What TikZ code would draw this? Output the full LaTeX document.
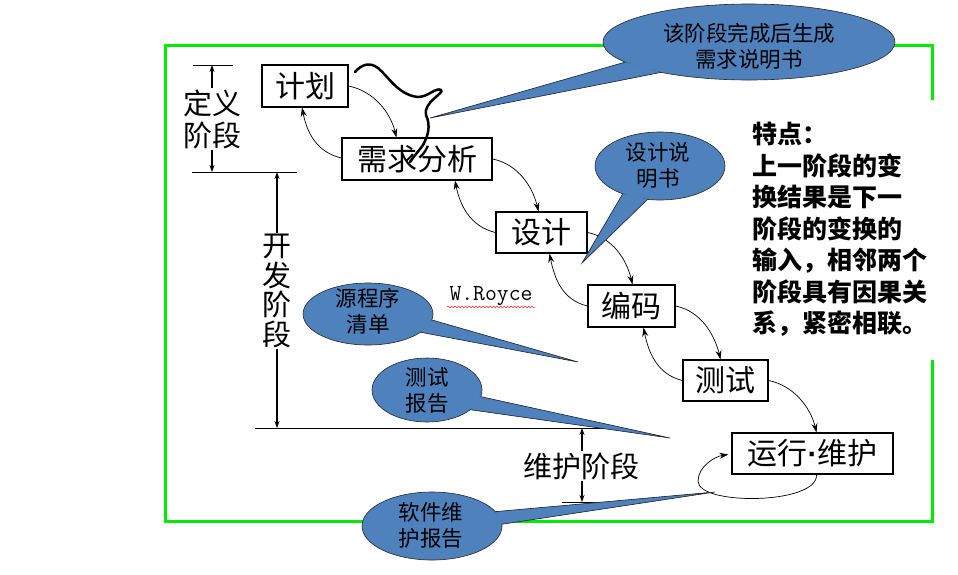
\documentclass[tikz,border=0pt]{standalone}
\usepackage{fontspec}
\newfontfamily\cjk{Noto Sans CJK SC}
\newfontfamily\latdot{Liberation Sans}
\usetikzlibrary{arrows.meta,calc,decorations.pathmorphing}
\definecolor{cblue}{RGB}{79,129,189}
\definecolor{fgreen}{RGB}{0,235,0}
\newcommand{\mycallout}[6]{%
  \coordinate (#1c) at #2;
  \coordinate (#1a) at ($(#1c)+(#4:#3)$);
  \coordinate (#1b) at ($(#1c)+(#5:#3)$);
  \fill[cblue] (#1a) -- (#6) -- (#1b) -- cycle;
  \filldraw[fill=cblue, draw=black!85, line width=0.6pt] (#1c) ellipse (#3);
  \fill[cblue] (#1a) -- (#6) -- (#1b) -- cycle;
  \draw[black!85, line width=0.6pt, line join=miter] (#1a) -- (#6) -- (#1b);
}
\begin{document}
\begin{tikzpicture}[x=1pt,y=-1pt,
  stage/.style={draw, line width=1.2pt, fill=white, inner sep=0pt,
    font=\cjk\fontsize{30}{32}\selectfont},
  flow/.style={-{Stealth[length=9pt,width=6pt]}, line width=0.7pt},
  dim/.style={-{Stealth[length=7pt,width=5pt]}, line width=1.3pt},
  rule/.style={line width=1pt},
  ctext/.style={align=center, inner sep=0pt, font=\cjk\fontsize{21.5}{26}\selectfont},
  side/.style={align=center, inner sep=1pt, font=\cjk\fontsize{29}{32}\selectfont}
]
\useasboundingbox (0,0) rectangle (958,574);
\fill[white] (0,0) rectangle (958,574);

% green frame
\draw[fgreen, line width=3pt] (932,100) -- (932,45) -- (165,45) -- (165,521) -- (932,521) -- (932,360);

% stage boxes
\node[stage, minimum width=86pt, minimum height=42pt] (jh) at (305,86) {计划};
\node[stage, minimum width=150pt, minimum height=42pt] (xq) at (417,159) {需求分析};
\node[stage, minimum width=91pt, minimum height=41pt] (sj) at (541.5,232.5) {设计};
\node[stage, minimum width=87pt, minimum height=42pt] (bm) at (631.5,306) {编码};
\node[stage, minimum width=85pt, minimum height=41pt] (cs) at (725.5,380.5) {测试};
\node[stage, minimum width=161pt, minimum height=41pt] (yx) at (812.5,453.5) {运行{\latdot\bfseries\fontsize{30}{32}\selectfont·}维护};

% forward arrows
\draw[flow] (jh.east) .. controls +(25,5) and +(-6,-25) .. ($(xq.north west)+(55,0)$);
\draw[flow] (xq.east) .. controls +(25,5) and +(-6,-25) .. ($(sj.north)+(-3,0)$);
\draw[flow] (sj.east) .. controls +(25,5) and +(-6,-25) .. ($(bm.north)+(1,0)$);
\draw[flow] (bm.east) .. controls +(25,5) and +(-6,-25) .. ($(cs.north)+(-5,0)$);
\draw[flow] (cs.east) .. controls +(25,5) and +(-6,-25) .. ($(yx.north)+(4,0)$);
% backward arrows
\draw[flow] ($(xq.west)+(0,-1)$) .. controls +(-25,-6) and +(5,25) .. ($(jh.south)+(-3,0)$);
\draw[flow] (sj.west) .. controls +(-25,-6) and +(5,25) .. ($(xq.south)+(38,0)$);
\draw[flow] (bm.west) .. controls +(-25,-6) and +(5,25) .. ($(sj.south)+(8,0)$);
\draw[flow] (cs.west) .. controls +(-25,-6) and +(5,25) .. ($(bm.south)+(12,0)$);
% self loop
\coordinate (lp1) at (698,481);
\draw[flow] ($(yx.south)+(4,0)$) .. controls +(2,30) and +(0,25) .. (lp1)
   .. controls +(0,-14) and +(-14,2) .. ($(yx.west)+(-3,1)$);

% left dimension marks
\coordinate (t1) at (212,65);
\coordinate (t2) at (277,172);
\coordinate (t3) at (277,428);
\coordinate (t4) at (582,502);
\draw[rule] (193,65) -- (233,65);
\draw[rule] (192,172) -- (297,172);
\draw[rule] (255,428) -- (605,428);
\draw[rule] (562,502) -- (600,502);
\node[side] (dy) at (212,119) {定义\\阶段};
\node[side, font=\cjk\fontsize{29}{29.5}\selectfont] (kf) at (277,291) {开\\发\\阶\\段};
\node[side] (wh) at (581,466) {维护阶段};
\draw[dim] (dy.north) -- (dy.north |- t1);
\draw[dim] (dy.south) -- (dy.south |- t2);
\draw[dim] (kf.north) -- (kf.north |- t2);
\draw[dim] (kf.south) -- (kf.south |- t3);
\draw[dim] (wh.north -| t4) -- (t4 |- t3);
\draw[dim] (wh.south -| t4) -- (t4);

% W.Royce
\node[font=\ttfamily\fontsize{23}{23}\selectfont, inner sep=0pt] (royce) at (491,296) {W.Royce};
\draw[red!85, line width=0.5pt, decorate, decoration={snake, amplitude=0.9pt, segment length=3.5pt}]
  (447,307) -- (535,307);

% callouts
\mycallout{ca}{(749,42)}{146 and 38}{148}{127}{430,118}
\node[ctext] (cat) at (749,46.5) {该阶段完成后生成\\需求说明书};
\mycallout{cb}{(660,166)}{65 and 34}{125}{101}{582,263}
\node[ctext] (cbt) at (658,165.5) {设计说\\明书};
\mycallout{cc}{(368,314)}{65 and 31}{11}{36}{578,362}
\node[ctext] (cct) at (368,311.5) {源程序\\清单};
\mycallout{cd}{(427,390)}{55 and 32}{12}{38}{670,438}
\node[ctext] (cdt) at (427,390) {测试\\报告};
\mycallout{ce}{(432,526)}{70 and 34}{-25}{-3}{715,492}
\node[ctext] (cet) at (431,525) {软件维\\护报告};

% squiggle
\draw[line width=2.5pt, line cap=round] (355,72) .. controls (362,64) and (370,62) .. (378,68)
  .. controls (388,76) and (398,95) .. (418,97)
  .. controls (428,97) and (436,87) .. (441,90)
  .. controls (445,93) and (423,102) .. (426,115)
  .. controls (431,126) and (428,136) .. (423,145)
  .. controls (418,152) and (414,156) .. (410,162);

% feature text
\node[anchor=north west, align=left, inner sep=0pt,
  font=\cjk\bfseries\fontsize{25}{31.5}\selectfont] (td) at (752,122)
  {特点：\\上一阶段的变\\换结果是下一\\阶段的变换的\\输入，相邻两个\\阶段具有因果关\\系，紧密相联。};
\end{tikzpicture}
\end{document}
